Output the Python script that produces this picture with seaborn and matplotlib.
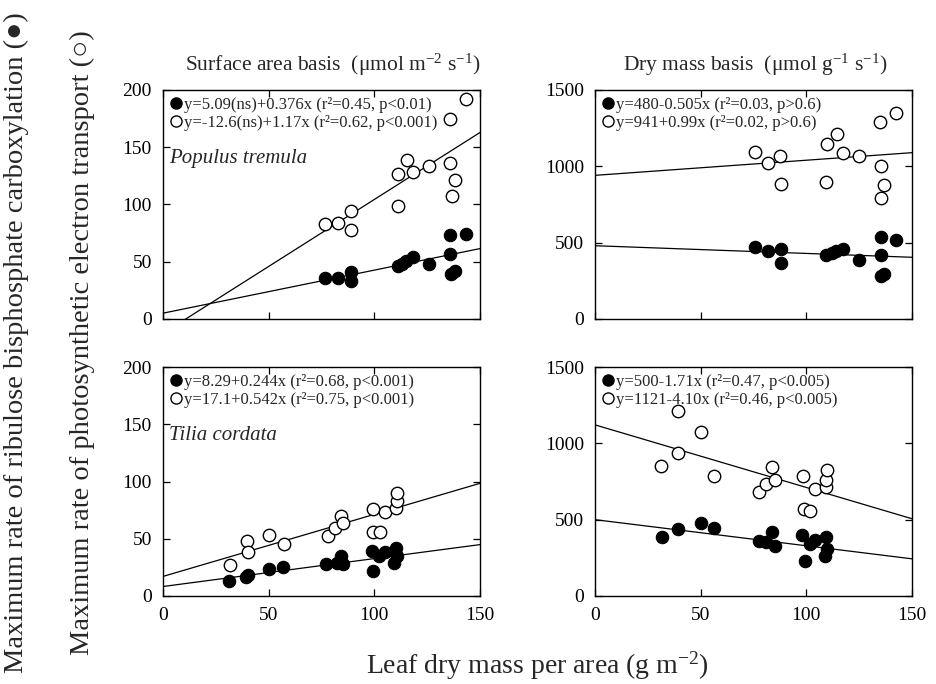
import matplotlib
matplotlib.use("Agg")
import matplotlib.pyplot as plt
from matplotlib.lines import Line2D
import numpy as np
import pandas as pd
import seaborn as sns

sns.set_style("ticks")
plt.rcParams["font.family"] = ["Liberation Serif", "DejaVu Serif", "DejaVu Sans"]
plt.rcParams["mathtext.fontset"] = "custom"
plt.rcParams["mathtext.rm"] = "Liberation Serif"
plt.rcParams["mathtext.it"] = "Liberation Serif:italic"

# ---- Populus tremula, surface area basis ----
pop_lma_j = [76.6, 82.9, 88.8, 89.0, 111.2, 111.2, 115.3, 118.5, 126.0, 135.9, 138.3, 136.8, 135.9, 143.5]
pop_jmax_area = [83, 84, 94, 78, 99, 127, 139, 128, 134, 136, 121, 107, 175, 192]
pop_lma_v = [76.6, 82.9, 88.8, 89.0, 111.2, 113.0, 115.2, 118.5, 126.0, 135.9, 135.9, 136.4, 138.3, 143.5]
pop_vcmax_area = [36, 36, 41, 33, 46, 48, 51, 54, 48, 57, 73, 39, 42, 74]

# ---- Populus tremula, dry mass basis ----
pop_jmax_mass = [1093, 1023, 1067, 886, 899, 1144, 1214, 1089, 1067, 1293, 1002, 881, 794, 1347]
pop_lma_jm = [75.7, 82.0, 87.6, 87.8, 109.2, 110.0, 114.3, 117.5, 125.0, 135.0, 135.4, 136.8, 135.4, 142.5]
pop_vcmax_mass = [472, 444, 461, 367, 418, 430, 444, 459, 385, 538, 418, 280, 297, 516]
pop_lma_vm = [75.7, 82.0, 87.8, 87.8, 109.5, 112.0, 114.0, 117.5, 125.0, 135.2, 135.2, 135.2, 136.8, 142.4]

# ---- Tilia cordata, surface area basis ----
til_lma_j = [31.7, 39.7, 40.2, 50.3, 57.1, 78.3, 81.3, 84.4, 85.4, 99.5, 99.5, 102.7, 105.2, 110.3, 110.6, 110.8]
til_jmax_area = [27, 48, 38, 53, 45, 52, 59, 70, 64, 76, 56, 56, 73, 77, 83, 90]
til_lma_v = [31.3, 39.4, 40.0, 50.0, 57.0, 77.3, 82.5, 84.4, 85.4, 98.9, 99.5, 102.4, 105.0, 110.3, 110.6, 109.5]
til_vcmax_area = [13, 17, 18, 24, 25, 28, 29, 35, 28, 39, 22, 35, 38, 42, 35, 29]

# ---- Tilia cordata, dry mass basis ----
til_lma_jm = [31.2, 39.4, 39.4, 50.0, 56.5, 77.4, 80.9, 83.7, 85.0, 98.3, 98.7, 101.9, 104.3, 109.3, 109.5, 109.8]
til_jmax_mass = [851, 1215, 934, 1074, 787, 679, 735, 843, 761, 787, 570, 555, 702, 713, 761, 826]
til_lma_vm = [31.5, 39.4, 50.0, 56.5, 77.4, 80.9, 83.7, 85.3, 98.0, 99.2, 101.9, 104.3, 109.3, 109.8, 109.0]
til_vcmax_mass = [389, 441, 480, 443, 357, 354, 419, 328, 400, 231, 339, 365, 387, 307, 264]

# Regression coefficients (intercept, slope) for Vcmax (filled) and Jmax (open)
fits_v = [(5.09, 0.376), (480, -0.505), (8.29, 0.244), (500, -1.71)]
fits_j = [(-12.6, 1.17), (941, 0.99), (17.1, 0.542), (1121, -4.10)]
labels_v = ["y=5.09(ns)+0.376x (r²=0.45, p<0.01)", "y=480-0.505x (r²=0.03, p>0.6)",
            "y=8.29+0.244x (r²=0.68, p<0.001)", "y=500-1.71x (r²=0.47, p<0.005)"]
labels_j = ["y=-12.6(ns)+1.17x (r²=0.62, p<0.001)", "y=941+0.99x (r²=0.02, p>0.6)",
            "y=17.1+0.542x (r²=0.75, p<0.001)", "y=1121-4.10x (r²=0.46, p<0.005)"]
species = ["Populus tremula", None, "Tilia cordata", None]

panels = [
    (pop_lma_v, pop_vcmax_area, pop_lma_j, pop_jmax_area),
    (pop_lma_vm, pop_vcmax_mass, pop_lma_jm, pop_jmax_mass),
    (til_lma_v, til_vcmax_area, til_lma_j, til_jmax_area),
    (til_lma_vm, til_vcmax_mass, til_lma_jm, til_jmax_mass),
]
ylims = [(0, 200), (0, 1500), (0, 200), (0, 1500)]
yticks = [[0, 50, 100, 150, 200], [0, 500, 1000, 1500], [0, 50, 100, 150, 200], [0, 500, 1000, 1500]]
xticks = [0, 50, 100, 150]

W, H = 937, 684
fig = plt.figure(figsize=(W / 100, H / 100), dpi=100)
boxes = [(163, 90), (595, 90), (163, 367), (595, 367)]
aw, ah = 317, 229

ms = 80
for i, ((xv, yv, xj, yj), (bx, by)) in enumerate(zip(panels, boxes)):
    ax = fig.add_axes([bx / W, 1 - (by + ah) / H, aw / W, ah / H])
    dv = pd.DataFrame({"lma": xv, "val": yv})
    dj = pd.DataFrame({"lma": xj, "val": yj})
    xs = np.linspace(0, 150, 200)
    a, b = fits_j[i]
    ax.plot(xs, a + b * xs, color="black", lw=0.9, zorder=1)
    a, b = fits_v[i]
    ax.plot(xs, a + b * xs, color="black", lw=0.9, zorder=1)
    sns.scatterplot(data=dj, x="lma", y="val", ax=ax, s=ms, facecolor="white",
                    edgecolor="black", linewidth=1.0, zorder=3)
    sns.scatterplot(data=dv, x="lma", y="val", ax=ax, s=ms, color="black",
                    edgecolor="black", linewidth=0.8, zorder=4)
    ax.set_xlim(0, 150)
    ax.set_ylim(*ylims[i])
    ax.set_xticks(xticks)
    ax.set_yticks(yticks[i])
    ax.set_xlabel("")
    ax.set_ylabel("")
    ax.tick_params(direction="in", length=5, width=0.9, top=True, right=True,
                   labelsize=14, pad=8, colors="black")
    if i < 2:
        ax.tick_params(labelbottom=False)
    for s in ax.spines.values():
        s.set_visible(True)
        s.set_linewidth(1.0)
        s.set_color("black")
    handles = [
        Line2D([], [], marker="o", ls="none", markersize=8, markerfacecolor="black",
               markeredgecolor="black"),
        Line2D([], [], marker="o", ls="none", markersize=8, markerfacecolor="white",
               markeredgecolor="black", markeredgewidth=1.0),
    ]
    ax.legend(handles, [labels_v[i], labels_j[i]], loc="upper left", frameon=False,
              fontsize=12, handlelength=0.7, handletextpad=0.15, labelspacing=0.15,
              borderaxespad=0.2, borderpad=0.2)
    if species[i]:
        ax.text(0.02, 0.70, species[i], transform=ax.transAxes, fontsize=15,
                style="italic", ha="left", va="center")

fig.text(333 / W, 1 - 65 / H, "Surface area basis  (μmol m$^{-2}$ s$^{-1}$)",
         ha="center", va="center", fontsize=15.5)
fig.text(755 / W, 1 - 65 / H, "Dry mass basis  (μmol g$^{-1}$ s$^{-1}$)",
         ha="center", va="center", fontsize=15.5)
fig.text(537 / W, 1 - 666 / H, "Leaf dry mass per area (g m$^{-2}$)",
         ha="center", va="center", fontsize=20)
fig.text(16 / W, 1 - 343 / H, "Maximum rate of ribulose bisphosphate carboxylation (●)",
         rotation=90, ha="center", va="center", fontsize=20.5)
fig.text(82 / W, 1 - 343 / H, "Maximum rate of photosynthetic electron transport (○)",
         rotation=90, ha="center", va="center", fontsize=20.5)

fig.savefig("out.png", dpi=100)
